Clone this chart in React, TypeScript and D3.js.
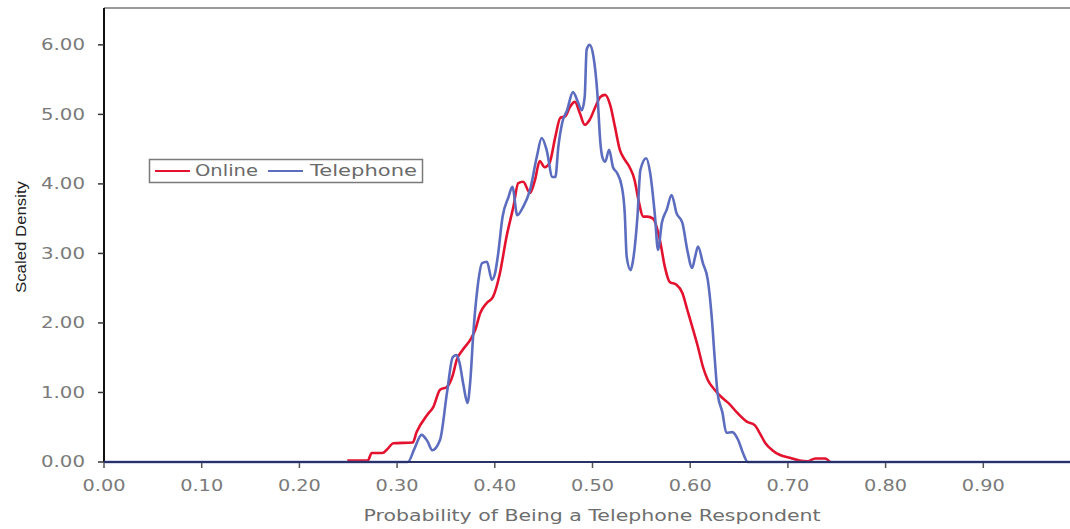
import { useEffect, useRef } from "react"
import * as d3 from "d3"

const WIDTH = 1070
const HEIGHT = 529

// x-axis ticks and y-axis ticks
const xTicks = [0, 0.1, 0.2, 0.3, 0.4, 0.5, 0.6, 0.7, 0.8, 0.9]
const yTicks = [0, 1, 2, 3, 4, 5, 6]

// Telephone respondents (blue)
const telephoneX = [
  0, 0.311, 0.318, 0.325, 0.331, 0.336, 0.344, 0.351, 0.357, 0.361, 0.364, 0.368, 0.372, 0.375, 0.378,
  0.382, 0.387, 0.392, 0.397, 0.4, 0.403, 0.408, 0.414, 0.418, 0.423, 0.429, 0.436, 0.443, 0.448, 0.453,
  0.459, 0.462, 0.465, 0.469, 0.474, 0.48, 0.485, 0.489, 0.492, 0.494, 0.497, 0.501, 0.505, 0.508, 0.51,
  0.513, 0.517, 0.521, 0.525, 0.53, 0.533, 0.535, 0.539, 0.541, 0.546, 0.549, 0.555, 0.559, 0.564, 0.567,
  0.571, 0.576, 0.581, 0.586, 0.592, 0.597, 0.602, 0.605, 0.608, 0.613, 0.618, 0.622, 0.625, 0.628, 0.633,
  0.637, 0.643, 0.649, 0.654, 0.659, 0.99,
]
const telephoneY = [
  0, 0, 0.2, 0.39, 0.3, 0.17, 0.32, 0.99, 1.51, 1.54, 1.42, 1.1, 0.85, 1.18, 1.85,
  2.47, 2.86, 2.88, 2.62, 2.7, 2.95, 3.53, 3.81, 3.96, 3.55, 3.67, 3.91, 4.39, 4.66, 4.49,
  4.1, 4.1, 4.53, 4.88, 5.06, 5.32, 5.18, 5.06, 5.25, 5.93, 6.0, 5.83, 5.3, 4.6, 4.39,
  4.32, 4.49, 4.24, 4.16, 3.96, 3.58, 2.95, 2.76, 2.86, 3.53, 4.2, 4.37, 4.16, 3.53, 3.05,
  3.44, 3.63, 3.84, 3.58, 3.44, 3.05, 2.79, 2.95, 3.1, 2.86, 2.62, 2.09, 1.51, 0.99, 0.71,
  0.42, 0.43, 0.32, 0.13, 0, 0,
]

// Online respondents (red)
const onlineX = [
  0.249, 0.27, 0.274, 0.285, 0.291, 0.296, 0.316, 0.32, 0.331, 0.337, 0.344, 0.351, 0.357, 0.361, 0.367,
  0.375, 0.38, 0.385, 0.392, 0.398, 0.405, 0.412, 0.419, 0.424, 0.429, 0.436, 0.441, 0.446, 0.451, 0.456,
  0.462, 0.467, 0.472, 0.477, 0.482, 0.487, 0.492, 0.497, 0.503, 0.508, 0.513, 0.518, 0.523, 0.528, 0.533,
  0.538, 0.543, 0.547, 0.552, 0.556, 0.562, 0.569, 0.574, 0.579, 0.586, 0.592, 0.597, 0.603, 0.608, 0.613,
  0.618, 0.625, 0.633, 0.639, 0.648, 0.658, 0.666, 0.671, 0.677, 0.684, 0.692, 0.702, 0.712, 0.72, 0.728,
  0.738, 0.743,
]
const onlineY = [
  0.02, 0.02, 0.13, 0.13, 0.2, 0.27, 0.28, 0.43, 0.68, 0.79, 1.04, 1.08, 1.25, 1.47, 1.61,
  1.76, 1.9, 2.14, 2.29, 2.37, 2.7, 3.24, 3.67, 4.01, 4.03, 3.87, 4.05, 4.33, 4.24, 4.3,
  4.68, 4.95, 4.97, 5.11, 5.18, 5.02, 4.85, 4.92, 5.11, 5.25, 5.28, 5.14, 4.82, 4.49, 4.35,
  4.24, 4.06, 3.77, 3.53, 3.53, 3.5, 3.19, 2.81, 2.59, 2.55, 2.43, 2.19, 1.9, 1.65, 1.37,
  1.18, 1.04, 0.92, 0.85, 0.71, 0.58, 0.53, 0.42, 0.27, 0.17, 0.1, 0.06, 0.02, 0.01, 0.05,
  0.05, 0,
]

const series = [
  { name: "Online", color: "#e3122f", xs: onlineX, ys: onlineY },
  { name: "Telephone", color: "#5c6dbf", xs: telephoneX, ys: telephoneY },
]

export default function App() {
  const svgRef = useRef<SVGSVGElement>(null)

  useEffect(() => {
    const svg = d3.select(svgRef.current!)
    svg.selectAll("*").remove()

    const left = 104
    const top = 8
    const bottom = 462

    const x = d3.scaleLinear().domain([0, 0.99]).range([left, left + 0.99 * 977])
    const y = d3.scaleLinear().domain([0, 6.53]).range([bottom, top])

    const tickFont = "'DejaVu Sans', Verdana, sans-serif"

    // top frame line
    svg
      .append("line")
      .attr("x1", left)
      .attr("x2", WIDTH)
      .attr("y1", top)
      .attr("y2", top)
      .attr("stroke", "#9a9a9a")
      .attr("stroke-width", 2)

    // y axis
    const yAxis = svg.append("g")
    yAxis
      .append("line")
      .attr("x1", left)
      .attr("x2", left)
      .attr("y1", top)
      .attr("y2", bottom)
      .attr("stroke", "#111")
      .attr("stroke-width", 2)
    yTicks.forEach((t) => {
      yAxis
        .append("line")
        .attr("x1", left - 6)
        .attr("x2", left)
        .attr("y1", y(t))
        .attr("y2", y(t))
        .attr("stroke", "#333")
        .attr("stroke-width", 1.5)
      yAxis
        .append("text")
        .attr("x", 85)
        .attr("y", y(t))
        .attr("dy", "0.36em")
        .attr("text-anchor", "end")
        .attr("font-family", tickFont)
        .attr("font-size", 15)
        .attr("fill", "#7a7a7a")
        .attr("textLength", 44)
        .attr("lengthAdjust", "spacingAndGlyphs")
        .text(t.toFixed(2))
    })

    // x ticks
    const xAxis = svg.append("g")
    xTicks.forEach((t) => {
      xAxis
        .append("line")
        .attr("x1", x(t))
        .attr("x2", x(t))
        .attr("y1", bottom)
        .attr("y2", bottom + 6)
        .attr("stroke", "#555")
        .attr("stroke-width", 1.5)
      xAxis
        .append("text")
        .attr("x", x(t))
        .attr("y", 486)
        .attr("dy", "0.36em")
        .attr("text-anchor", "middle")
        .attr("font-family", tickFont)
        .attr("font-size", 15)
        .attr("fill", "#7a7a7a")
        .attr("textLength", 43)
        .attr("lengthAdjust", "spacingAndGlyphs")
        .text(t.toFixed(2))
    })

    // curves
    const line = d3
      .line<[number, number]>()
      .x((d) => x(d[0]))
      .y((d) => y(d[1]))
      .curve(d3.curveMonotoneX)

    series.forEach((s) => {
      const pts = s.xs.map((v, i) => [v, s.ys[i]] as [number, number])
      svg
        .append("path")
        .attr("d", line(pts))
        .attr("fill", "none")
        .attr("stroke", s.color)
        .attr("stroke-width", 2.6)
        .attr("stroke-linejoin", "round")
    })

    // x axis line (drawn on top, dark navy)
    svg
      .append("line")
      .attr("x1", left)
      .attr("x2", WIDTH)
      .attr("y1", bottom)
      .attr("y2", bottom)
      .attr("stroke", "#2a3166")
      .attr("stroke-width", 2)

    // axis titles
    svg
      .append("text")
      .attr("x", 592)
      .attr("y", 516)
      .attr("dy", "0.36em")
      .attr("text-anchor", "middle")
      .attr("font-family", tickFont)
      .attr("font-size", 15)
      .attr("fill", "#6e6e6e")
      .attr("textLength", 457)
      .attr("lengthAdjust", "spacingAndGlyphs")
      .text("Probability of Being a Telephone Respondent")

    svg
      .append("text")
      .attr("transform", "translate(21,237) rotate(-90)")
      .attr("dy", "0.36em")
      .attr("text-anchor", "middle")
      .attr("font-family", "'Liberation Sans Narrow', 'Arial Narrow', 'Liberation Sans', sans-serif")
      .attr("font-size", 15)
      .attr("fill", "#222")
      .attr("textLength", 112)
      .attr("lengthAdjust", "spacingAndGlyphs")
      .text("Scaled Density")

    // legend
    const lg = svg.append("g")
    lg.append("rect")
      .attr("x", 149.5)
      .attr("y", 159.5)
      .attr("width", 273)
      .attr("height", 23)
      .attr("fill", "#fff")
      .attr("stroke", "#7a7a7a")
      .attr("stroke-width", 1.5)
    const legendItems = [
      { ...series[0], x1: 155, x2: 190, tx: 195, tl: 63 },
      { ...series[1], x1: 268, x2: 303, tx: 310, tl: 107 },
    ]
    legendItems.forEach((it) => {
      lg.append("line")
        .attr("x1", it.x1)
        .attr("x2", it.x2)
        .attr("y1", 171)
        .attr("y2", 171)
        .attr("stroke", it.color)
        .attr("stroke-width", 2)
      lg.append("text")
        .attr("x", it.tx)
        .attr("y", 171)
        .attr("dy", "0.36em")
        .attr("font-family", tickFont)
        .attr("font-size", 15)
        .attr("fill", "#6a6a6a")
        .attr("textLength", it.tl)
        .attr("lengthAdjust", "spacingAndGlyphs")
        .text(it.name)
    })
  }, [])

  return (
    <svg
      ref={svgRef}
      width={WIDTH}
      height={HEIGHT}
      style={{ position: "absolute", left: 0, top: 0, background: "#fff" }}
    />
  )
}
